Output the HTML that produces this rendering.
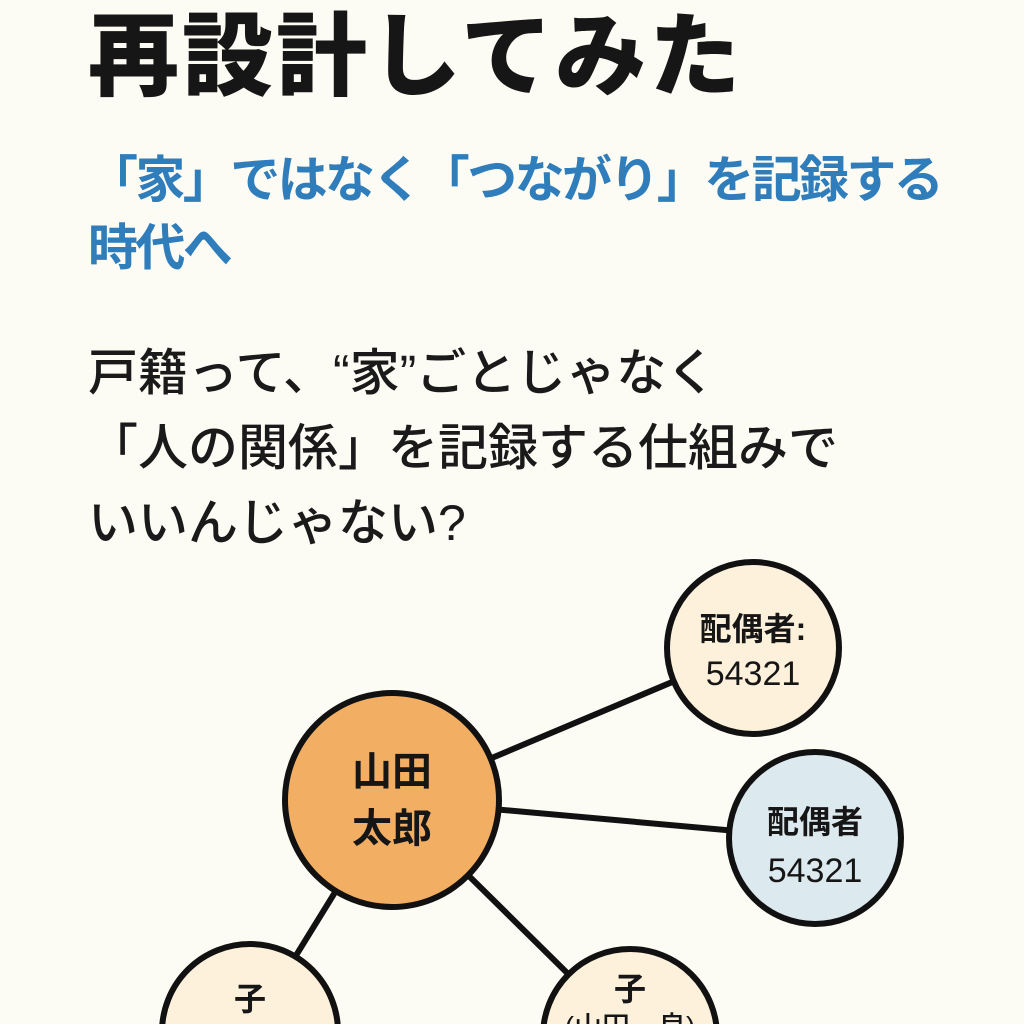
<!DOCTYPE html>
<html><head><meta charset="utf-8"><style>
html,body{margin:0;padding:0;background:#fdfcf4;width:1024px;height:1024px;overflow:hidden;}
body{position:relative;font-family:"Liberation Sans","Noto Sans CJK JP",sans-serif;}
.t{position:absolute;left:88px;white-space:nowrap;}
</style></head><body>
<div class="t" style="top:3px;font-size:91px;font-weight:900;color:#161616;line-height:110px;letter-spacing:3px;">再設計してみた</div>
<div class="t" style="top:146px;font-size:50px;font-weight:700;color:#2f7dbb;line-height:68px;letter-spacing:-2.6px;">「家」ではなく「つながり」を記録する<br>時代へ</div>
<div class="t" style="top:336px;font-size:50px;font-weight:500;color:#1a1a1a;line-height:75px;">戸籍って、“家”ごとじゃなく<br>「人の関係」を記録する仕組みで<br>いいんじゃない?</div>
<svg width="1024" height="1024" viewBox="0 0 1024 1024" style="position:absolute;left:0;top:0" font-family="Liberation Sans, Noto Sans CJK JP, sans-serif">
<g stroke="#111" stroke-width="6">
<line x1="392" y1="800" x2="753" y2="648"/>
<line x1="392" y1="800" x2="815" y2="838"/>
<line x1="392" y1="800" x2="250" y2="1030"/>
<line x1="392" y1="800" x2="630" y2="1035"/>
<circle cx="753" cy="648" r="86" fill="#fdf1dc"/>
<circle cx="815" cy="838" r="86" fill="#dce9ef"/>
<circle cx="250" cy="1032" r="88" fill="#fdf1dc"/>
<circle cx="630" cy="1036" r="87" fill="#fdf1dc"/>
<circle cx="392" cy="800" r="107" fill="#f2ae63"/>
</g>
<g fill="#161616" text-anchor="middle" font-weight="700">
<text x="392" y="785" font-size="40">山田</text>
<text x="392" y="842" font-size="40">太郎</text>
<text x="753" y="640" font-size="32">配偶者:</text>
<text x="753" y="685" font-size="34" font-weight="500">54321</text>
<text x="815" y="833" font-size="32">配偶者</text>
<text x="815" y="882" font-size="34" font-weight="500">54321</text>
<text x="250" y="1010" font-size="32">子</text>
<text x="630" y="1000" font-size="32">子</text>
<text x="630" y="1036" font-size="28" font-weight="500">(山田　良)</text>
</g>
</svg>
</body></html>
